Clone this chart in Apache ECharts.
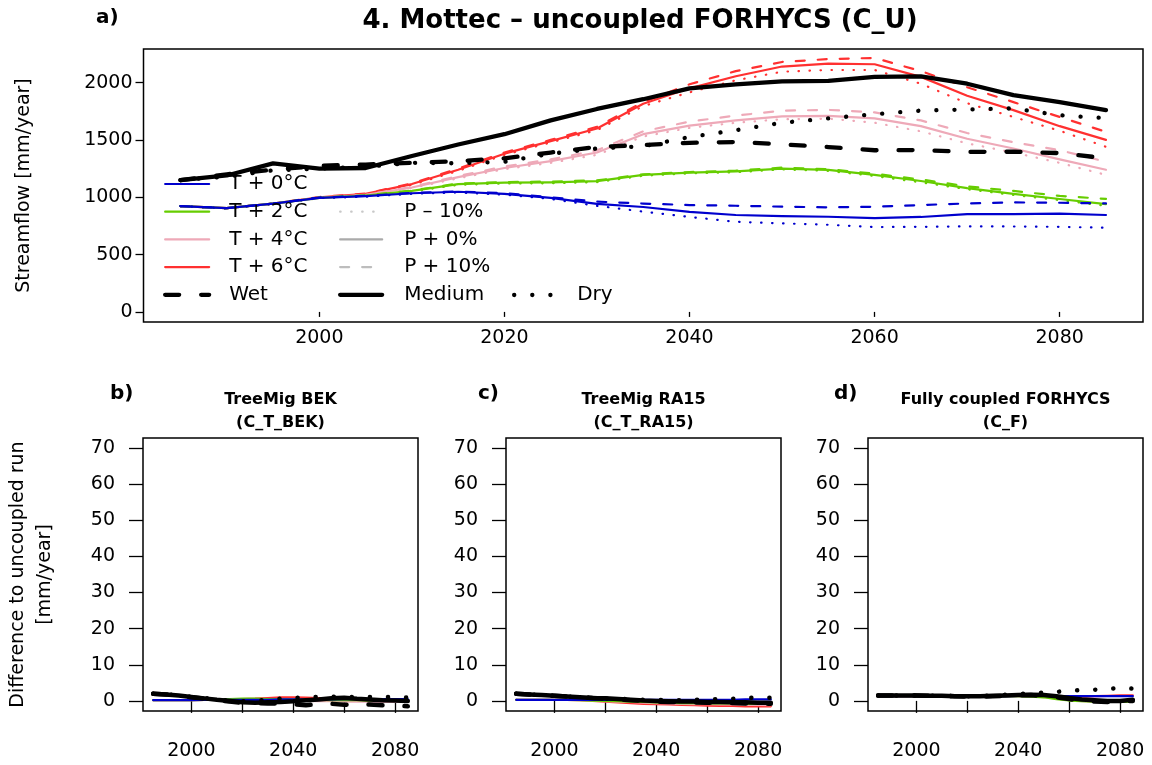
<!DOCTYPE html>
<html><head><meta charset="utf-8">
<script src="https://cdn.jsdelivr.net/npm/echarts@6/dist/echarts.min.js"></script>
<style>html,body{margin:0;padding:0;background:#fff}#c{width:1152px;height:765px}</style>
</head><body><div id="c"></div>
<script>
// ---------- data ----------
const years = [1985,1990,1995,2000,2005,2010,2015,2020,2025,2030,2035,2040,2045,2050,2055,2060,2065,2070,2075,2080,2085];

// panel a: streamflow [mm/year], uncoupled FORHYCS
const t0_pm10 = [923,903,943,993,1005,1030,1042,1022,985,925,875,828,786,772,760,740,742,746,745,742,734];
const t0_p0   = [923,905,945,995,1010,1035,1048,1030,995,942,915,872,845,836,830,818,828,852,853,858,845];
const t0_pp10 = [923,905,945,998,1012,1038,1050,1035,1000,962,945,932,926,918,912,917,932,946,955,952,946];
const t2_pm10 = [923,903,943,992,1012,1050,1108,1120,1122,1132,1188,1208,1218,1243,1230,1185,1130,1070,1020,975,925];
const t2_p0   = [923,905,945,995,1015,1055,1115,1127,1130,1140,1195,1215,1226,1250,1238,1195,1142,1080,1030,985,940];
const t2_pp10 = [923,905,945,998,1017,1058,1120,1132,1137,1147,1200,1220,1232,1258,1245,1205,1155,1095,1055,1012,985];
const t4_pm10 = [923,903,943,992,1018,1080,1165,1245,1300,1370,1530,1605,1650,1680,1685,1650,1575,1470,1390,1300,1195];
const t4_p0   = [923,905,945,995,1020,1085,1175,1255,1315,1390,1550,1625,1670,1705,1710,1688,1620,1510,1425,1330,1240];
const t4_pp10 = [923,905,945,998,1022,1090,1185,1268,1330,1410,1575,1660,1712,1755,1762,1740,1670,1560,1480,1410,1310];
const t6_pm10 = [923,903,943,998,1025,1108,1230,1370,1478,1585,1795,1915,2020,2095,2110,2110,1990,1820,1700,1580,1440];
const t6_p0   = [923,905,945,1000,1030,1115,1240,1380,1490,1600,1815,1950,2055,2140,2165,2160,2050,1885,1760,1620,1500];
const t6_pp10 = [923,905,945,1002,1032,1120,1250,1390,1500,1615,1830,1985,2100,2180,2205,2215,2100,1960,1830,1700,1570];
const wet     = [1150,1200,1240,1275,1285,1300,1315,1340,1390,1440,1455,1475,1482,1462,1438,1410,1412,1395,1397,1385,1340];
const medium  = [1150,1190,1295,1250,1255,1360,1460,1550,1670,1770,1855,1950,1985,2010,2015,2050,2055,1990,1890,1830,1760];
const dry     = [1150,1180,1235,1250,1265,1300,1296,1310,1380,1425,1445,1525,1585,1650,1688,1725,1756,1765,1775,1715,1690];

// panel b: TreeMig BEK, difference to uncoupled run [mm/year]
const b_t0     = [0.2,0.2,0.2,0.2,0.3,0.3,0.3,0.3,0.3,0.3,0.4,0.4,0.4,0.4,0.4,0.5,0.5,0.5,0.5,0.5,0.5];
const b_t2     = [0.2,0.2,0.2,0.2,0.3,0.4,0.5,0.6,0.6,0.5,0.5,0.4,0.3,0.3,0.2,0.2,0.2,0.1,0.1,0.1,0.1];
const b_t4     = [0.2,0.2,0.2,0.2,0.3,0.3,0.4,0.4,0.3,0.2,0.1,0.0,0.0,-0.1,-0.1,-0.2,-0.2,-0.2,-0.3,-0.3,-0.3];
const b_t6     = [0.2,0.2,0.2,0.2,0.3,0.4,0.5,0.5,0.6,0.8,1.0,1.0,0.9,0.8,0.6,0.4,0.2,0.1,0.0,-0.1,-0.2];
const b_wet    = [2.0,1.8,1.5,1.0,0.6,0.2,-0.2,-0.5,-0.6,-0.7,-0.7,-0.9,-1.2,-0.9,-0.8,-1.1,-0.9,-1.0,-1.2,-1.3,-1.5];
const b_medium = [2.0,1.8,1.5,1.1,0.7,0.3,0.0,-0.4,-0.5,-0.4,-0.3,-0.1,0.2,0.4,0.7,0.9,0.6,0.4,0.2,0.1,0.0];
const b_dry    = [2.0,1.8,1.5,1.1,0.8,0.4,0.1,-0.1,0.0,0.3,0.6,0.8,1.0,1.1,1.1,1.2,1.0,1.1,1.1,1.0,0.9];

// panel c: TreeMig RA15
const c_t0     = [0.3,0.3,0.3,0.3,0.3,0.3,0.3,0.3,0.3,0.3,0.3,0.3,0.3,0.3,0.3,0.3,0.3,0.3,0.4,0.4,0.4];
const c_t2     = [0.3,0.3,0.3,0.3,0.3,0.2,0.1,0.0,-0.1,-0.2,-0.3,-0.4,-0.5,-0.6,-0.6,-0.7,-0.7,-0.7,-0.8,-0.8,-0.8];
const c_t4     = [0.3,0.3,0.3,0.3,0.3,0.2,0.1,-0.1,-0.2,-0.3,-0.5,-0.6,-0.7,-0.8,-0.9,-0.9,-1.0,-1.0,-1.1,-1.1,-1.2];
const c_t6     = [0.3,0.3,0.3,0.3,0.3,0.2,0.0,-0.2,-0.4,-0.6,-0.8,-0.9,-1.0,-1.1,-1.2,-1.3,-1.4,-1.4,-1.5,-1.5,-1.5];
const c_wet    = [2.0,1.8,1.6,1.4,1.2,1.0,0.8,0.6,0.4,0.2,0.0,-0.2,-0.3,-0.4,-0.4,-0.5,-0.6,-0.6,-0.7,-0.7,-0.8];
const c_medium = [2.0,1.8,1.6,1.4,1.2,1.0,0.8,0.7,0.5,0.3,0.1,0.0,-0.1,-0.2,-0.2,-0.3,-0.3,-0.4,-0.4,-0.5,-0.5];
const c_dry    = [2.0,1.8,1.6,1.4,1.2,1.0,0.8,0.7,0.6,0.5,0.3,0.3,0.2,0.2,0.3,0.4,0.5,0.6,0.8,0.9,0.9];

// panel d: fully coupled FORHYCS
const d_t0     = [1.3,1.3,1.3,1.3,1.3,1.3,1.2,1.2,1.2,1.3,1.3,1.4,1.4,1.4,1.3,1.3,1.3,1.3,1.3,1.3,1.3];
const d_t2     = [1.3,1.3,1.3,1.3,1.3,1.3,1.2,1.2,1.2,1.3,1.3,1.3,1.2,1.0,0.5,0.1,-0.1,-0.2,-0.3,-0.3,-0.2];
const d_t4     = [1.3,1.3,1.3,1.3,1.3,1.3,1.2,1.2,1.2,1.3,1.3,1.4,1.3,1.0,0.6,0.2,-0.1,-0.2,-0.2,-0.1,0.0];
const d_t6     = [1.3,1.3,1.3,1.3,1.3,1.3,1.2,1.2,1.2,1.3,1.4,1.5,1.5,1.4,1.3,1.2,1.2,1.3,1.4,1.5,1.5];
const d_wet    = [1.5,1.5,1.5,1.5,1.4,1.4,1.3,1.2,1.2,1.3,1.4,1.5,1.6,1.4,1.0,0.5,0.1,-0.2,-0.3,-0.2,0.0];
const d_medium = [1.5,1.5,1.5,1.5,1.4,1.4,1.3,1.3,1.3,1.4,1.5,1.6,1.7,1.6,1.3,0.8,0.4,0.2,0.0,0.0,0.3];
const d_dry    = [1.5,1.5,1.5,1.5,1.4,1.4,1.3,1.3,1.4,1.5,1.7,1.9,2.1,2.3,2.5,2.8,3.0,3.1,3.3,3.6,3.4];

// axis ticks / labels
const topYTicks = [0,500,1000,1500,2000];
const topXTicks = [2000,2020,2040,2060,2080];
const botYTicks = [0,10,20,30,40,50,60,70];
const botXTicks = [2000,2020,2040,2060,2080];
const botXLabels = [2000,2040,2080];

// ---------- styling ----------
const FONT = 'DejaVu Sans';
const C0 = '#0000CD', C2 = '#66CD00', C4 = '#EEA9B8', C6 = '#FF3030', GREY = '#AAAAAA';
const CW = 2.2, KW = 4.3;
const DASH = [9, 13], DOT = [0.5, 10.5], KDASH = [14, 22], KDOT = [0.1, 18];

function ln(name, arr, color, width, type, gi, z) {
  return {
    type: 'line', name: name, xAxisIndex: gi, yAxisIndex: gi,
    data: arr ? years.map((y, i) => [y, arr[i]]) : [],
    symbol: 'none', silent: true, animation: false, z: z || 2,
    lineStyle: { color: color, width: width, type: type, cap: 'round', join: 'round' },
    itemStyle: { color: color }
  };
}

const series = [
  // panel a (warmest first so that the T + 0°C line lies on top where they coincide)
  ln('a T6 P-10', t6_pm10, C6, CW, DOT, 0), ln('a T6 P0', t6_p0, C6, CW, 'solid', 0), ln('a T6 P+10', t6_pp10, C6, CW, DASH, 0),
  ln('a T4 P-10', t4_pm10, C4, CW, DOT, 0), ln('a T4 P0', t4_p0, C4, CW, 'solid', 0), ln('a T4 P+10', t4_pp10, C4, CW, DASH, 0),
  ln('a T2 P-10', t2_pm10, C2, CW, DOT, 0), ln('a T2 P0', t2_p0, C2, CW, 'solid', 0), ln('a T2 P+10', t2_pp10, C2, CW, DASH, 0),
  ln('a T0 P-10', t0_pm10, C0, CW, DOT, 0), ln('a T0 P0', t0_p0, C0, CW, 'solid', 0), ln('a T0 P+10', t0_pp10, C0, CW, DASH, 0),
  ln('Wet', wet, '#000', KW, KDASH, 0, 3), ln('Medium', medium, '#000', KW, 'solid', 0, 3), ln('Dry', dry, '#000', KW, KDOT, 0, 3),
  // legend keys
  ln('T + 0°C', null, C0, CW, 'solid', 0), ln('T + 2°C', null, C2, CW, 'solid', 0),
  ln('T + 4°C', null, C4, CW, 'solid', 0), ln('T + 6°C', null, C6, CW, 'solid', 0),
  ln('P – 10%', null, '#C8C8C8', CW, DOT, 0), ln('P + 0%', null, GREY, CW, 'solid', 0), ln('P + 10%', null, '#BDBDBD', CW, DASH, 0),
  // panel b
  ln('b T6', b_t6, C6, CW, 'solid', 1), ln('b T4', b_t4, C4, CW, 'solid', 1), ln('b T2', b_t2, C2, CW, 'solid', 1), ln('b T0', b_t0, C0, CW, 'solid', 1),
  ln('b Wet', b_wet, '#000', 4.5, KDASH, 1, 3), ln('b Medium', b_medium, '#000', 4.5, 'solid', 1, 3), ln('b Dry', b_dry, '#000', 4.5, KDOT, 1, 3),
  // panel c
  ln('c T6', c_t6, C6, CW, 'solid', 2), ln('c T4', c_t4, C4, CW, 'solid', 2), ln('c T2', c_t2, C2, CW, 'solid', 2), ln('c T0', c_t0, C0, CW, 'solid', 2),
  ln('c Wet', c_wet, '#000', 4.5, KDASH, 2, 3), ln('c Medium', c_medium, '#000', 4.5, 'solid', 2, 3), ln('c Dry', c_dry, '#000', 4.5, KDOT, 2, 3),
  // panel d
  ln('d T6', d_t6, C6, CW, 'solid', 3), ln('d T4', d_t4, C4, CW, 'solid', 3), ln('d T2', d_t2, C2, CW, 'solid', 3), ln('d T0', d_t0, C0, CW, 'solid', 3),
  ln('d Wet', d_wet, '#000', 4.5, KDASH, 3, 3), ln('d Medium', d_medium, '#000', 4.5, 'solid', 3, 3), ln('d Dry', d_dry, '#000', 4.5, KDOT, 3, 3)
];

const fmt = v => String(v);
function xAx(gi, ticks, labels, tickLen, margin) {
  return {
    type: 'value', gridIndex: gi, min: 1981, max: 2089,
    axisLine: { show: false }, splitLine: { show: false },
    axisTick: { show: true, length: tickLen, customValues: ticks, lineStyle: { color: '#000', width: 1.3 } },
    axisLabel: { customValues: labels, margin: margin, formatter: fmt, fontSize: 19, fontFamily: FONT, color: '#000' }
  };
}
function yAx(gi, min, max, ticks, tickLen, margin, extra) {
  return Object.assign({
    type: 'value', gridIndex: gi, min: min, max: max,
    axisLine: { show: false }, splitLine: { show: false },
    axisTick: { show: true, length: tickLen, customValues: ticks, lineStyle: { color: '#000', width: 1.3 } },
    axisLabel: { customValues: ticks, margin: margin, formatter: fmt, fontSize: 19, fontFamily: FONT, color: '#000' }
  }, extra || {});
}

const gridStyle = { show: true, borderColor: '#000', borderWidth: 1.5, backgroundColor: 'transparent' };
const legendBase = {
  orient: 'vertical', padding: 0, itemHeight: 14, itemGap: 7.7, selectedMode: false,
  itemStyle: { opacity: 0 }, lineStyle: { width: 'inherit' },
  textStyle: { fontFamily: FONT, fontSize: 20, lineHeight: 20, color: '#000' }
};

const option = {
  backgroundColor: '#fff',
  animation: false,
  grid: [
    Object.assign({ left: 143.5, top: 49, width: 999.5, height: 273 }, gridStyle),
    Object.assign({ left: 143, top: 438, width: 275, height: 273 }, gridStyle),
    Object.assign({ left: 506, top: 438, width: 275, height: 273 }, gridStyle),
    Object.assign({ left: 868, top: 438, width: 275, height: 273 }, gridStyle)
  ],
  xAxis: [
    xAx(0, topXTicks, topXTicks, 5, 7),
    xAx(1, botXTicks, botXLabels, 12, 31),
    xAx(2, botXTicks, botXLabels, 12, 31),
    xAx(3, botXTicks, botXLabels, 12, 31)
  ],
  yAxis: [
    yAx(0, -88, 2293, topYTicks, 8, 11, {
      name: 'Streamflow [mm/year]', nameLocation: 'middle', nameGap: 110, nameRotate: 90,
      nameTextStyle: { fontFamily: FONT, fontSize: 19, color: '#000' }
    }),
    yAx(1, -2.8, 72.8, botYTicks, 14, 28, {
      name: 'Difference to uncoupled run\n[mm/year]', nameLocation: 'middle', nameGap: 84, nameRotate: 90,
      nameTextStyle: { fontFamily: FONT, fontSize: 19, lineHeight: 27, color: '#000' }
    }),
    yAx(2, -2.8, 72.8, botYTicks, 14, 28),
    yAx(3, -2.8, 72.8, botYTicks, 14, 28)
  ],
  legend: [
    Object.assign({}, legendBase, { left: 163, top: 174, itemWidth: 44,
      data: ['T + 0°C', 'T + 2°C', 'T + 4°C', 'T + 6°C', 'Wet'],
      textStyle: Object.assign({}, legendBase.textStyle, { padding: [0, 0, 0, 15] }) }),
    Object.assign({}, legendBase, { left: 338, top: 201.7, itemWidth: 42,
      data: ['P – 10%', 'P + 0%', 'P + 10%', 'Medium'],
      textStyle: Object.assign({}, legendBase.textStyle, { padding: [0, 0, 0, 17] }) }),
    Object.assign({}, legendBase, { left: 512, top: 285, itemWidth: 40,
      data: ['Dry'],
      textStyle: Object.assign({}, legendBase.textStyle, { padding: [0, 0, 0, 18] }) })
  ],
  graphic: [
    { type: 'text', x: 640, y: 21, style: { text: '4. Mottec – uncoupled FORHYCS (C_U)', font: 'bold 26px "DejaVu Sans"', fill: '#000', textAlign: 'center', textVerticalAlign: 'middle' } },
    { type: 'text', x: 96, y: 18, style: { text: 'a)', font: 'bold 20px "DejaVu Sans"', fill: '#000', textAlign: 'left', textVerticalAlign: 'middle' } },
    { type: 'text', x: 110, y: 394, style: { text: 'b)', font: 'bold 20px "DejaVu Sans"', fill: '#000', textAlign: 'left', textVerticalAlign: 'middle' } },
    { type: 'text', x: 478, y: 394, style: { text: 'c)', font: 'bold 20px "DejaVu Sans"', fill: '#000', textAlign: 'left', textVerticalAlign: 'middle' } },
    { type: 'text', x: 834, y: 394, style: { text: 'd)', font: 'bold 20px "DejaVu Sans"', fill: '#000', textAlign: 'left', textVerticalAlign: 'middle' } },
    { type: 'text', x: 280.5, y: 411, style: { text: 'TreeMig BEK\n(C_T_BEK)', font: 'bold 16px "DejaVu Sans"', lineHeight: 23, fill: '#000', textAlign: 'center', textVerticalAlign: 'middle' } },
    { type: 'text', x: 643.5, y: 411, style: { text: 'TreeMig RA15\n(C_T_RA15)', font: 'bold 16px "DejaVu Sans"', lineHeight: 23, fill: '#000', textAlign: 'center', textVerticalAlign: 'middle' } },
    { type: 'text', x: 1005.5, y: 411, style: { text: 'Fully coupled FORHYCS\n(C_F)', font: 'bold 16px "DejaVu Sans"', lineHeight: 23, fill: '#000', textAlign: 'center', textVerticalAlign: 'middle' } }
  ],
  series: series
};

const chart = echarts.init(document.getElementById('c'), null, { renderer: 'canvas' });
chart.setOption(option);
</script>
</body></html>
